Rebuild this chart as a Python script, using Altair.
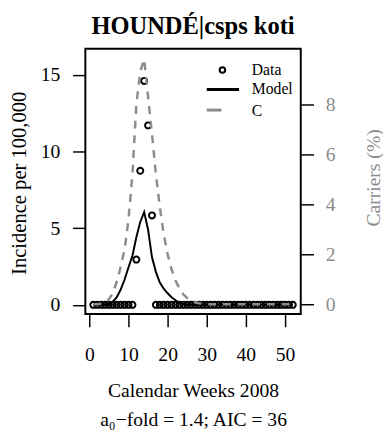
import altair as alt
import pandas as pd

# ---- data ----
weeks = list(range(1, 53))
incidence = [0, 0, 0, 0, 0, 0, 0, 0, 0, 0, 0,
             2.95, 8.74, 14.6, 11.7, 5.83,
             0, 0, 0, 0, 0, 0, 0, 0, 0, 0, 0, 0, 0, 0, 0, 0, 0, 0,
             0, 0, 0, 0, 0, 0, 0, 0, 0, 0, 0, 0, 0, 0, 0, 0, 0, 0]
model = [0, 0, 0, 0, 0.05, 0.2, 0.5, 1.0, 1.65, 2.45, 3.2, 4.4, 5.4, 6.05,
         4.9, 3.1, 2.15, 1.45, 1.05, 0.75, 0.5, 0.3, 0.15, 0.05, 0.02,
         0, 0, 0, 0, 0, 0, 0, 0, 0, 0, 0, 0, 0, 0, 0, 0, 0, 0, 0, 0, 0,
         0, 0, 0, 0, 0, 0]
carriers = [0, 0, 0.02, 0.08, 0.2, 0.45, 0.9, 1.5, 2.2, 3.4, 5.2, 8.0, 9.3,
            9.8, 8.3, 6.8, 5.2, 3.9, 2.8, 2.0, 1.4, 0.95, 0.65, 0.4, 0.25,
            0.15, 0.08, 0.04, 0.02,
            0, 0, 0, 0, 0, 0, 0, 0, 0, 0, 0, 0, 0, 0, 0, 0, 0, 0, 0, 0, 0,
            0, 0]
x_ticks = [0, 10, 20, 30, 40, 50]
left_ticks = [0, 5, 10, 15]
right_ticks = [0, 2, 4, 6, 8]
legend_labels = ["Data", "Model", "C"]

title_text = "HOUNDÉ|csps koti"
x_title = ["Calendar Weeks 2008", "a₀−fold = 1.4; AIC = 36"]
y_title = "Incidence per 100,000"
y2_title = "Carriers (%)"

df = pd.DataFrame({"week": weeks, "incidence": incidence,
                   "model": model, "carriers": carriers})

FONT = "Liberation Serif"
GRAY = "#8c8c8c"
LBL = 20
TTL = 20

x_enc = alt.X("week:Q",
              scale=alt.Scale(domain=[-1.04, 54.04], nice=False, zero=False),
              axis=alt.Axis(values=x_ticks, title=x_title, domain=False,
                            grid=False, tickSize=13, tickWidth=1.5,
                            tickColor="black", labelPadding=18,
                            labelFont=FONT, labelFontSize=LBL,
                            labelColor="black", titleFont=FONT,
                            titleFontSize=TTL, titleFontWeight="normal",
                            titleColor="black", titlePadding=17,
                            titleLineHeight=30, labelFlush=False))

left_scale = alt.Scale(domain=[-0.6, 16.7], nice=False, zero=False)
right_scale = alt.Scale(domain=[-0.39, 10.22], nice=False, zero=False)

left_axis = alt.Axis(values=left_ticks, title=None, orient="left",
                     domain=False, grid=False, tickSize=13,
                     tickWidth=1.5, tickColor="black", labelPadding=13,
                     labelFont=FONT, labelFontSize=LBL,
                     labelColor="black")

base = alt.Chart(df)

points = base.mark_point(shape="circle", filled=False, color="black",
                         size=38, strokeWidth=2, opacity=1).encode(
    x=x_enc,
    y=alt.Y("incidence:Q", scale=left_scale, axis=left_axis, title=None)
)

model_line = base.mark_line(color="black", strokeWidth=2).encode(
    x="week:Q",
    y=alt.Y("model:Q", scale=left_scale, axis=left_axis, title=None)
)

left_layer = alt.layer(points, model_line)

carrier_line = base.mark_line(color=GRAY, strokeWidth=2.5,
                              strokeDash=[8, 7]).encode(
    x="week:Q",
    y=alt.Y("carriers:Q", scale=right_scale, title=None,
            axis=alt.Axis(values=right_ticks, title=None, orient="right",
                          domain=False, grid=False, tickSize=13,
                          tickWidth=1.5, tickColor="black", labelPadding=12,
                          labelFont=FONT, labelFontSize=LBL, labelColor=GRAY))
)

# axis titles drawn as rotated text marks
ttl_df = pd.DataFrame({"t": [y_title, y2_title]})
ttl = alt.Chart(ttl_df)
left_ttl = ttl.transform_filter(alt.datum.t == y_title).mark_text(
    angle=270, align="center", baseline="alphabetic", font=FONT,
    fontSize=21, color="black").encode(
    x=alt.value(-60.3), y=alt.value(137.5), text="t:N")
right_ttl = ttl.transform_filter(alt.datum.t == y2_title).mark_text(
    angle=270, align="center", baseline="alphabetic", font=FONT,
    fontSize=TTL, color=GRAY).encode(
    x=alt.value(301), y=alt.value(132), text="t:N")

leg_df = pd.DataFrame({"label": legend_labels})
leg = alt.Chart(leg_df)
leg_point = leg.transform_filter(alt.datum.label == "Data").mark_point(
    shape="circle", filled=False, color="black", size=32, strokeWidth=2,
    opacity=1).encode(x=alt.value(140), y=alt.value(21.7))
leg_model = leg.transform_filter(alt.datum.label == "Model").mark_rule(
    color="black", strokeWidth=3).encode(
    x=alt.value(124), x2=alt.value(157), y=alt.value(41.7))
leg_c = leg.transform_filter(alt.datum.label == "C").mark_rule(
    color=GRAY, strokeWidth=3).encode(
    x=alt.value(124), x2=alt.value(139), y=alt.value(62.7))

leg_texts = []
for lab, yy in zip(legend_labels, [26.7, 46.7, 68.3]):
    leg_texts.append(
        leg.transform_filter(alt.datum.label == lab).mark_text(
            align="left", baseline="alphabetic", font=FONT, fontSize=16,
            color="black").encode(x=alt.value(170), y=alt.value(yy),
                                  text="label:N"))

chart = alt.layer(left_layer, carrier_line, left_ttl, right_ttl, leg_point,
                  leg_model, leg_c, *leg_texts
                  ).resolve_scale(y="independent").properties(
    width=220, height=271,
    title=alt.TitleParams(title_text, font=FONT, fontSize=25,
                          fontWeight="bold", color="black", anchor="middle",
                          offset=10),
    autosize=alt.AutoSizeParams(type="none"),
    padding={"left": 79, "top": 37, "right": 84, "bottom": 119},
).configure(
    background="white", font=FONT,
).configure_view(
    stroke="black", strokeWidth=2
).configure_axis(labelFont=FONT, titleFont=FONT
).configure_text(font=FONT)

chart.save("out.html", embed_options={"renderer": "svg", "actions": False})
